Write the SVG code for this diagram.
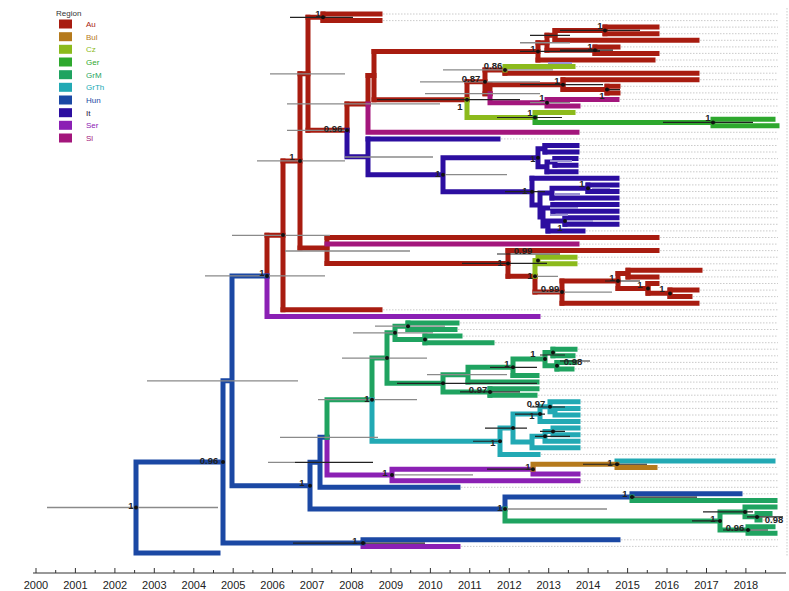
<svg xmlns="http://www.w3.org/2000/svg" width="789" height="591" viewBox="0 0 789 591">
<style>
.b{fill:none;stroke-width:5;stroke-linecap:square}
.au{stroke:#a81c10}.bul{stroke:#b57a1c}.cz{stroke:#8cba1c}.ger{stroke:#2ea82e}.grm{stroke:#1fa360}.grth{stroke:#22a9b4}.hun{stroke:#1b48a4}.it{stroke:#2c0ea0}.ser{stroke:#8b20b4}.sl{stroke:#a3167c}
.fau{fill:#a81c10}.fbul{fill:#b57a1c}.fcz{fill:#8cba1c}.fger{fill:#2ea82e}.fgrm{fill:#1fa360}.fgrth{fill:#22a9b4}.fhun{fill:#1b48a4}.fit{fill:#2c0ea0}.fser{fill:#8b20b4}.fsl{fill:#a3167c}
.guide{fill:none;stroke:#b4b4b4;stroke-width:0.7;stroke-dasharray:1.5 1.5}
.eb{fill:none;stroke:#8a8a8a;stroke-width:1.3}
.ebd{fill:none;stroke:#222;stroke-width:1.2}
.ebl{fill:none;stroke:#9a92d4;stroke-width:2}
.dot{fill:#111}
.sup{font-family:"Liberation Sans",Arial,sans-serif;font-size:9.5px;font-weight:bold;fill:#222;text-anchor:middle}
.leg{font-family:"Liberation Sans",Arial,sans-serif;font-size:8px}
.ax{font-family:"Liberation Sans",Arial,sans-serif;font-size:11px;fill:#222;text-anchor:middle}
</style>
<rect width="789" height="591" fill="#fff"/>

<g id="guides">
<path class="guide" d="M380 14H778M380 20.6H778M657 27.1H778M657 33.7H778M697 40.3H778M618 46.9H778M657 53.4H778M653 60H778M573 66.6H778M697 73.2H778M697 79.7H778M618 86.3H778M618 92.9H778M617 99.4H778M578 106H778M573 112.6H778M577 132.3H778M498 138.9H778M577 145.5H778M577 152H778M576 158.6H778M576 165.2H778M576 171.8H778M617 178.3H778M617 184.9H778M617 191.5H778M617 198H778M617 204.6H778M617 211.2H778M617 217.8H778M617 224.3H778M583 230.9H778M657 237.5H778M577 244.1H778M657 250.6H778M575 257.2H778M575 263.8H778M700 270.3H778M657 276.9H778M657 283.5H778M697 290.1H778M690 296.6H778M697 303.2H778M380 309.8H778M538 316.4H778M457 322.9H778M455 329.5H778M460 336.1H778M492 342.7H778M575 349.2H778M573 355.8H778M575 362.4H778M572 368.9H778M537 375.5H778M537 382.1H778M537 388.7H778M535 395.2H778M578 401.8H778M578 408.4H778M578 415H778M578 421.5H778M578 428.1H778M578 434.7H778M578 441.2H778M578 447.8H778M538 454.4H778M655 467.5H778M578 474.1H778M578 480.7H778M458 487.3H778M740 493.8H778M760 520.1H778M618 539.8H778M458 546.4H778"/>
<path class="guide" d="M787 8V557"/>
</g>

<g id="branches">
<g id="clade-au">
<path class="b au" d="M267 235.35V275.9M283 160.9V309.8M300 73.8V248M308 17.3V130.35M323 14V20.6M327 237.5V263.45M347 103.9V130.35M368 75.5V103.9M374 51.4V99.65M538 42.75V60M547 35.35V50.15M555 30.4V40.3M605 27.1V33.7M595 46.9V53.4M467 81.8V99.65M485 69.9V93.7M505 69.9V73.2M490 84.65V93.7M563 79.7V89.6M607 86.3V92.9M508 250.6V276.3M535 276.3V292.1M562 281V303.2M618 273.6V288.4M628 270.3V276.9M648 283.5V293.35M670 290.1V296.6"/>
<path class="b au" d="M267 235.35H283M283 160.9H300M300 73.8H308M300 248H327M308 17.3H323M308 130.35H347M347 103.9H368M368 75.5H374M374 51.4H538M374 99.65H467M538 42.75H547M547 35.35H555M555 30.4H605M547 50.15H595M467 81.8H485M485 69.9H505M485 93.7H490M490 84.65H563M563 89.6H607M327 263.45H508M508 276.3H535M535 292.1H562M562 281H618M618 273.6H628M618 288.4H648M648 293.35H670"/>
<path class="b au" d="M323 14H380M323 20.6H380M605 27.1H657M605 33.7H657M555 40.3H697M595 46.9H618M595 53.4H657M538 60H653M505 73.2H697M563 79.7H697M607 86.3H618M607 92.9H618M327 237.5H657M508 250.6H657M628 270.3H700M628 276.9H657M648 283.5H657M670 290.1H697M670 296.6H690M562 303.2H697M283 309.8H380"/>
</g>
<g id="clade-cz">
<path class="b cz" d="M467 99.65V117.5M505 66.6V69.9M535 112.6V117.5M535 260.5V276.3M538 257.2V263.8M467 117.5H535M535 260.5H538M505 66.6H573M535 112.6H573M538 257.2H575M538 263.8H575"/>
</g>
<g id="clade-ger">
<path class="b ger" d="M535 117.5V122.45M535 122.45H713M713 119.2V125.7M713 119.2H773M713 125.7H777"/>
</g>
<g id="clade-sl">
<path class="b sl" d="M368 103.9V132.3M490 93.7V102.7M490 102.7H547M547 99.4V106M368 132.3H577M547 99.4H617M547 106H578M327 244.1H577"/>
</g>
<g id="clade-it">
<path class="b it" d="M347 130.35V156.8M347 156.8H368M368 138.9V174.7M368 174.7H443M443 157.8V191.65M443 157.8H538M443 191.65H532M538 148.75V166.85M538 148.75H545M538 166.85H547M545 145.5V152M547 161.9V171.8M547 161.9H555M555 158.6V165.2M532 178.3V205M532 205H540M540 193.1V216.95M540 193.1H552M552 188.2V198M552 188.2H588M588 184.9V191.5M540 216.95H543M543 207.9V226M543 207.9H553M553 204.6V211.2M543 226H548M548 221.05V230.9M548 221.05H565M565 217.8V224.3"/>
<path class="b it" d="M368 138.9H498M545 145.5H577M545 152H577M555 158.6H576M555 165.2H576M547 171.8H576M532 178.3H617M588 184.9H617M588 191.5H617M552 198H617M553 204.6H617M553 211.2H617M565 217.8H617M565 224.3H617M548 230.9H583"/>
</g>
<g id="clade-ser">
<path class="b ser" d="M267 275.9V316.4M267 316.4H538M327 437.3V474.95M327 474.95H392M392 469.2V480.7M392 469.2H533M533 469.2V474.1M533 474.1H578M392 480.7H578M363 543.1V546.4M363 546.4H458"/>
</g>
<g id="clade-hun">
<path class="b hun" d="M136 461.95V553M136 461.95H223M136 553H218M223 380.8V543.1M223 380.8H232M223 543.1H363M232 275.9V485.65M232 275.9H267M232 485.65H310M310 462.3V509M310 462.3H320M310 509H505M320 437.3V487.3M320 437.3H327M320 487.3H458M505 497.1V509M505 497.1H632M632 493.8V497.1M632 493.8H740M363 539.8V543.1M363 539.8H618"/>
</g>
<g id="clade-grm">
<path class="b grm" d="M327 399.65V437.3M327 399.65H372M372 358.05V399.65M372 358.05H387M387 332.8V383.3M387 332.8H395M395 326.2V339.4M395 326.2H408M395 339.4H425M408 322.9V329.5M425 336.1V342.7M387 383.3H443M443 374.7V391.95M443 374.7H468M443 391.95H490M468 367.3V382.1M468 367.3H513M513 359.1V375.5M513 359.1H545M545 352.5V365.65M545 352.5H553M545 365.65H557M553 349.2V355.8M557 362.4V368.9M490 388.7V395.2"/>
<path class="b grm" d="M408 322.9H457M408 329.5H455M425 336.1H460M425 342.7H492M553 349.2H575M553 355.8H573M557 362.4H575M557 368.9H572M513 375.5H537M468 382.1H537M490 388.7H537M490 395.2H535"/>
<path class="b grm" d="M505 509V520.95M505 520.95H720M632 497.1V500.4M632 500.4H775M720 511.9V530M720 511.9H745M720 530H748M745 507V516.85M745 507H775M745 516.85H757M757 513.6V520.1M757 513.6H770M757 520.1H760M748 526.7V533.3M748 526.7H773M748 533.3H775"/>
</g>
<g id="clade-grth">
<path class="b grth" d="M372 399.65V441.25M372 441.25H500M500 428.1V454.4M500 428.1H513M500 454.4H538M513 414.1V442.05M513 414.1H540M513 442.05H532M540 406.75V421.5M540 406.75H550M540 421.5H578M550 401.8V411.7M550 401.8H578M550 411.7H555M555 408.4V415M555 408.4H578M555 415H578M532 436.3V447.8M532 436.3H545M532 447.8H578M545 431.4V441.2M545 431.4H553M545 441.2H578M553 428.1V434.7M553 428.1H578M553 434.7H578M617 461V464.25M617 461H773"/>
</g>
<g id="clade-bul">
<path class="b bul" d="M533 464.25V469.2M533 464.25H617M617 464.25V467.5M617 467.5H655"/>
</g>
</g>

<g id="error-bars">
<path class="ebl" d="M550 161H572M592 188H610M555 194H580M550 208H578M550 215H568M565 221H593M548 63H572"/>
<path class="eb" d="M47 507.5H218M147 380.8H298M205 275.9H325M232 235.35H330M257 160.9H345M345 157H433M270 73.8H345M287 130.35H347M287 103.9H440M420 81.8H540M443 69.9H553M425 93.7H540M530 102.7H570M520 42.75H570M443 174.7H507M285 251H410M533 276.3H558M533 292.1H612M375 326.2H445M353 332.8H433M342 358.05H427M427 374.7H507M318 399.65H417M280 437.3H378M268 462.3H295M393 474.95H473M507 509H607"/>
<path class="ebd" d="M290 17.3H353M377 99.65H520M520 84.65H603M497 117.5H562M520 51.4H600M530 35.35H570M560 30.4H640M560 50.15H613M663 122.45H753M505 191.65H545M462 263.45H547M497 254H560M605 281H640M397 383.3H537M490 367.3H537M460 391.95H520M540 355H565M560 361H590M485 428.1H527M473 441.25H502M530 407H565M515 414.1H545M540 431.4H565M535 436.3H570M295 462.3H373M487 469.2H533M583 464.25H647M630 497.1H697M692 520.95H720M703 511.9H753M747 516.85H783M723 530H768M293 543.1H425M605 89.6H620"/>
</g>

<g id="node-dots">
<circle class="dot" cx="136" cy="507.5" r="2"/><circle class="dot" cx="223" cy="462" r="2"/><circle class="dot" cx="267" cy="276" r="2"/><circle class="dot" cx="283" cy="235" r="2"/><circle class="dot" cx="300" cy="161" r="2"/><circle class="dot" cx="323" cy="17.3" r="2"/><circle class="dot" cx="347" cy="130.3" r="2"/><circle class="dot" cx="538" cy="51.4" r="2"/><circle class="dot" cx="605" cy="30.4" r="2"/><circle class="dot" cx="595" cy="50.2" r="2"/><circle class="dot" cx="505" cy="69.9" r="2"/><circle class="dot" cx="485" cy="81.8" r="2"/><circle class="dot" cx="467" cy="99.7" r="2"/><circle class="dot" cx="563" cy="84.7" r="2"/><circle class="dot" cx="607" cy="89.6" r="2"/><circle class="dot" cx="547" cy="102.7" r="2"/><circle class="dot" cx="535" cy="117.5" r="2"/><circle class="dot" cx="713" cy="122.5" r="2"/><circle class="dot" cx="538" cy="157.8" r="2"/><circle class="dot" cx="443" cy="174.7" r="2"/><circle class="dot" cx="532" cy="191.7" r="2"/><circle class="dot" cx="588" cy="188.2" r="2"/><circle class="dot" cx="565" cy="221" r="2"/><circle class="dot" cx="508" cy="263.5" r="2"/><circle class="dot" cx="538" cy="260.5" r="2"/><circle class="dot" cx="535" cy="276.3" r="2"/><circle class="dot" cx="562" cy="292.1" r="2"/><circle class="dot" cx="618" cy="281" r="2"/><circle class="dot" cx="648" cy="288.4" r="2"/><circle class="dot" cx="670" cy="293.4" r="2"/><circle class="dot" cx="372" cy="399.7" r="2"/><circle class="dot" cx="387" cy="358" r="2"/><circle class="dot" cx="395" cy="332.8" r="2"/><circle class="dot" cx="408" cy="326.2" r="2"/><circle class="dot" cx="425" cy="339.4" r="2"/><circle class="dot" cx="443" cy="383.3" r="2"/><circle class="dot" cx="490" cy="392" r="2"/><circle class="dot" cx="513" cy="367.3" r="2"/><circle class="dot" cx="545" cy="359.1" r="2"/><circle class="dot" cx="553" cy="352.5" r="2"/><circle class="dot" cx="557" cy="365.7" r="2"/><circle class="dot" cx="500" cy="441.3" r="2"/><circle class="dot" cx="513" cy="428.1" r="2"/><circle class="dot" cx="540" cy="414.1" r="2"/><circle class="dot" cx="550" cy="406.8" r="2"/><circle class="dot" cx="545" cy="436.3" r="2"/><circle class="dot" cx="553" cy="431.4" r="2"/><circle class="dot" cx="533" cy="469.2" r="2"/><circle class="dot" cx="617" cy="464.3" r="2"/><circle class="dot" cx="392" cy="475" r="2"/><circle class="dot" cx="310" cy="485.7" r="2"/><circle class="dot" cx="505" cy="509" r="2"/><circle class="dot" cx="632" cy="497.1" r="2"/><circle class="dot" cx="720" cy="521" r="2"/><circle class="dot" cx="745" cy="511.9" r="2"/><circle class="dot" cx="757" cy="516.9" r="2"/><circle class="dot" cx="748" cy="530" r="2"/><circle class="dot" cx="363" cy="543.1" r="2"/>
</g>

<g id="support-labels">
<text class="sup" x="131" y="508.5">1</text>
<text class="sup" x="209" y="463.5">0.96</text>
<text class="sup" x="302" y="485.5">1</text>
<text class="sup" x="355" y="543.5">1</text>
<text class="sup" x="262" y="275.5">1</text>
<text class="sup" x="292" y="159.5">1</text>
<text class="sup" x="318" y="16.5">1</text>
<text class="sup" x="333" y="131.5">0.96</text>
<text class="sup" x="533" y="51.5">1</text>
<text class="sup" x="600" y="28.5">1</text>
<text class="sup" x="590" y="49.5">1</text>
<text class="sup" x="493" y="68.5">0.86</text>
<text class="sup" x="471" y="81.5">0.87</text>
<text class="sup" x="460" y="109.5">1</text>
<text class="sup" x="557" y="83.5">1</text>
<text class="sup" x="602" y="98.5">1</text>
<text class="sup" x="542" y="100.5">1</text>
<text class="sup" x="530" y="115.5">1</text>
<text class="sup" x="708" y="120.5">1</text>
<text class="sup" x="533" y="161.5">1</text>
<text class="sup" x="438" y="176.5">1</text>
<text class="sup" x="525" y="193.5">1</text>
<text class="sup" x="582" y="186.5">1</text>
<text class="sup" x="560" y="230.5">1</text>
<text class="sup" x="523" y="253.5">0.99</text>
<text class="sup" x="500" y="265.5">1</text>
<text class="sup" x="530" y="278.5">1</text>
<text class="sup" x="550" y="291.5">0.99</text>
<text class="sup" x="612" y="280.5">1</text>
<text class="sup" x="640" y="287.5">1</text>
<text class="sup" x="662" y="291.5">1</text>
<text class="sup" x="367" y="401.5">1</text>
<text class="sup" x="533" y="356.5">1</text>
<text class="sup" x="573" y="364.5">0.98</text>
<text class="sup" x="507" y="366.5">1</text>
<text class="sup" x="478" y="392.5">0.97</text>
<text class="sup" x="536" y="406.5">0.97</text>
<text class="sup" x="532" y="418.5">1</text>
<text class="sup" x="493" y="445.5">1</text>
<text class="sup" x="528" y="469.5">1</text>
<text class="sup" x="610" y="465.5">1</text>
<text class="sup" x="385" y="475.5">1</text>
<text class="sup" x="500" y="510.5">1</text>
<text class="sup" x="625" y="496.5">1</text>
<text class="sup" x="713" y="521.5">1</text>
<text class="sup" x="774" y="522.5">0.98</text>
<text class="sup" x="735" y="530.5">0.96</text>
</g>

<g id="legend">
<text class="leg" x="56" y="16" fill="#333">Region</text>
<rect class="fau" x="59" y="19.5" width="13" height="9"/><text class="leg fau" x="86" y="27">Au</text>
<rect class="fbul" x="59" y="32.2" width="13" height="9"/><text class="leg fbul" x="86" y="39.7">Bul</text>
<rect class="fcz" x="59" y="44.8" width="13" height="9"/><text class="leg fcz" x="86" y="52.3">Cz</text>
<rect class="fger" x="59" y="57.5" width="13" height="9"/><text class="leg fger" x="86" y="65">Ger</text>
<rect class="fgrm" x="59" y="70.2" width="13" height="9"/><text class="leg fgrm" x="86" y="77.7">GrM</text>
<rect class="fgrth" x="59" y="82.8" width="13" height="9"/><text class="leg fgrth" x="86" y="90.3">GrTh</text>
<rect class="fhun" x="59" y="95.5" width="13" height="9"/><text class="leg fhun" x="86" y="103">Hun</text>
<rect class="fit" x="59" y="108.2" width="13" height="9"/><text class="leg" x="86" y="115.7" fill="#1a1040">It</text>
<rect class="fser" x="59" y="120.8" width="13" height="9"/><text class="leg fser" x="86" y="128.3">Ser</text>
<rect class="fsl" x="59" y="133.5" width="13" height="9"/><text class="leg fsl" x="86" y="141">Sl</text>
</g>

<g id="axis">
<path fill="none" stroke="#333" stroke-width="1" d="M33 573H786"/>
<path fill="none" stroke="#333" stroke-width="1" d="M36 568V573M75.4 568V573M114.9 568V573M154.3 568V573M193.8 568V573M233.2 568V573M272.6 568V573M312.1 568V573M351.5 568V573M391 568V573M430.4 568V573M469.8 568V573M509.3 568V573M548.7 568V573M588.2 568V573M627.6 568V573M667 568V573M706.5 568V573M745.9 568V573M55.7 570V573M95.2 570V573M134.6 570V573M174 570V573M213.5 570V573M252.9 570V573M292.4 570V573M331.8 570V573M371.2 570V573M410.7 570V573M450.1 570V573M489.6 570V573M529 570V573M568.4 570V573M607.9 570V573M647.3 570V573M686.8 570V573M726.2 570V573M765.6 570V573"/>
<text class="ax" x="36" y="589">2000</text><text class="ax" x="75.4" y="589">2001</text><text class="ax" x="114.9" y="589">2002</text><text class="ax" x="154.3" y="589">2003</text><text class="ax" x="193.8" y="589">2004</text><text class="ax" x="233.2" y="589">2005</text><text class="ax" x="272.6" y="589">2006</text><text class="ax" x="312.1" y="589">2007</text><text class="ax" x="351.5" y="589">2008</text><text class="ax" x="391" y="589">2009</text><text class="ax" x="430.4" y="589">2010</text><text class="ax" x="469.8" y="589">2011</text><text class="ax" x="509.3" y="589">2012</text><text class="ax" x="548.7" y="589">2013</text><text class="ax" x="588.2" y="589">2014</text><text class="ax" x="627.6" y="589">2015</text><text class="ax" x="667" y="589">2016</text><text class="ax" x="706.5" y="589">2017</text><text class="ax" x="745.9" y="589">2018</text>
</g>
</svg>
